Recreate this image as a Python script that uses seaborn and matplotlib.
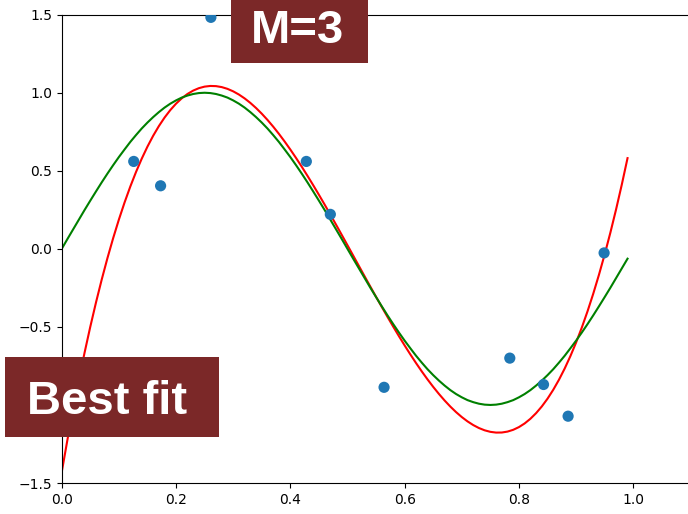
import matplotlib
matplotlib.use("Agg")
import matplotlib.pyplot as plt
import seaborn as sns
import pandas as pd
from matplotlib.patches import Rectangle

# noisy samples
pontos_x = [0.126, 0.173, 0.261, 0.428, 0.470, 0.564, 0.784, 0.843, 0.886, 0.949]
pontos_y = [0.560, 0.404, 1.483, 0.560, 0.221, -0.887, -0.700, -0.869, -1.072, -0.026]

# true curve (green), every 0.01
curva_x = [
    0.00, 0.01, 0.02, 0.03, 0.04, 0.05, 0.06, 0.07, 0.08, 0.09,
    0.10, 0.11, 0.12, 0.13, 0.14, 0.15, 0.16, 0.17, 0.18, 0.19,
    0.20, 0.21, 0.22, 0.23, 0.24, 0.25, 0.26, 0.27, 0.28, 0.29,
    0.30, 0.31, 0.32, 0.33, 0.34, 0.35, 0.36, 0.37, 0.38, 0.39,
    0.40, 0.41, 0.42, 0.43, 0.44, 0.45, 0.46, 0.47, 0.48, 0.49,
    0.50, 0.51, 0.52, 0.53, 0.54, 0.55, 0.56, 0.57, 0.58, 0.59,
    0.60, 0.61, 0.62, 0.63, 0.64, 0.65, 0.66, 0.67, 0.68, 0.69,
    0.70, 0.71, 0.72, 0.73, 0.74, 0.75, 0.76, 0.77, 0.78, 0.79,
    0.80, 0.81, 0.82, 0.83, 0.84, 0.85, 0.86, 0.87, 0.88, 0.89,
    0.90, 0.91, 0.92, 0.93, 0.94, 0.95, 0.96, 0.97, 0.98, 0.99,
]
curva_y = [
    0.000, 0.063, 0.125, 0.187, 0.249, 0.309, 0.368, 0.426, 0.482, 0.536,
    0.588, 0.637, 0.685, 0.729, 0.771, 0.809, 0.844, 0.876, 0.905, 0.930,
    0.951, 0.969, 0.982, 0.992, 0.998, 1.000, 0.998, 0.992, 0.982, 0.969,
    0.951, 0.930, 0.905, 0.876, 0.844, 0.809, 0.771, 0.729, 0.685, 0.637,
    0.588, 0.536, 0.482, 0.426, 0.368, 0.309, 0.249, 0.187, 0.125, 0.063,
    0.000, -0.063, -0.125, -0.187, -0.249, -0.309, -0.368, -0.426, -0.482, -0.536,
    -0.588, -0.637, -0.685, -0.729, -0.771, -0.809, -0.844, -0.876, -0.905, -0.930,
    -0.951, -0.969, -0.982, -0.992, -0.998, -1.000, -0.998, -0.992, -0.982, -0.969,
    -0.951, -0.930, -0.905, -0.876, -0.844, -0.809, -0.771, -0.729, -0.685, -0.637,
    -0.588, -0.536, -0.482, -0.426, -0.368, -0.309, -0.249, -0.187, -0.125, -0.063,
]

grau = 3
titulo = "M=3"
rotulo = "Best fit"

df_pontos = pd.DataFrame({"x": pontos_x, "y": pontos_y})
df_curva = pd.DataFrame({"x": curva_x, "y": curva_y})

fig = plt.figure(figsize=(6.88, 5.14), dpi=100)
ax = fig.add_axes([0.0897, 0.0603, 0.9138, 0.9111])

# fitted polynomial over the same range as the green curve
ax.set_xlim(0, 0.99)
sns.regplot(data=df_pontos, x="x", y="y", order=grau, ci=None, scatter=False,
            truncate=False, color="red", line_kws={"linewidth": 1.5}, ax=ax)
sns.lineplot(data=df_curva, x="x", y="y", color="green", linewidth=1.5, ax=ax)
sns.scatterplot(data=df_pontos, x="x", y="y", s=65, color="#1f77b4",
                edgecolor="none", ax=ax, zorder=3)

ax.set_xlim(0, 1.1)
ax.set_ylim(-1.5, 1.5)
ax.set_xticks([0.0, 0.2, 0.4, 0.6, 0.8, 1.0])
ax.set_yticks([-1.5, -1.0, -0.5, 0.0, 0.5, 1.0, 1.5])
ax.set_xlabel("")
ax.set_ylabel("")

cor_caixa = "#7b2828"
W, H = 688, 514
# "M=3" label box (top)
fig.patches.append(Rectangle((230.7 / W, 1 - 63 / H), 137.6 / W, 80 / H,
                             transform=fig.transFigure, facecolor=cor_caixa,
                             edgecolor="none", zorder=5))
fig.text(298 / W, 1 - 42.7 / H, titulo, ha="center", va="baseline", color="white",
         fontsize=34, fontweight="bold", family="Liberation Sans", zorder=6)
# "Best fit" label box (bottom left)
fig.patches.append(Rectangle((5 / W, 1 - 436.7 / H), 214 / W, 80 / H,
                             transform=fig.transFigure, facecolor=cor_caixa,
                             edgecolor="none", zorder=5))
fig.text(107.5 / W, 1 - 414 / H, rotulo, ha="center", va="baseline", color="white",
         fontsize=34, fontweight="bold", family="Liberation Sans", zorder=6)

fig.savefig("out.png", dpi=100)
